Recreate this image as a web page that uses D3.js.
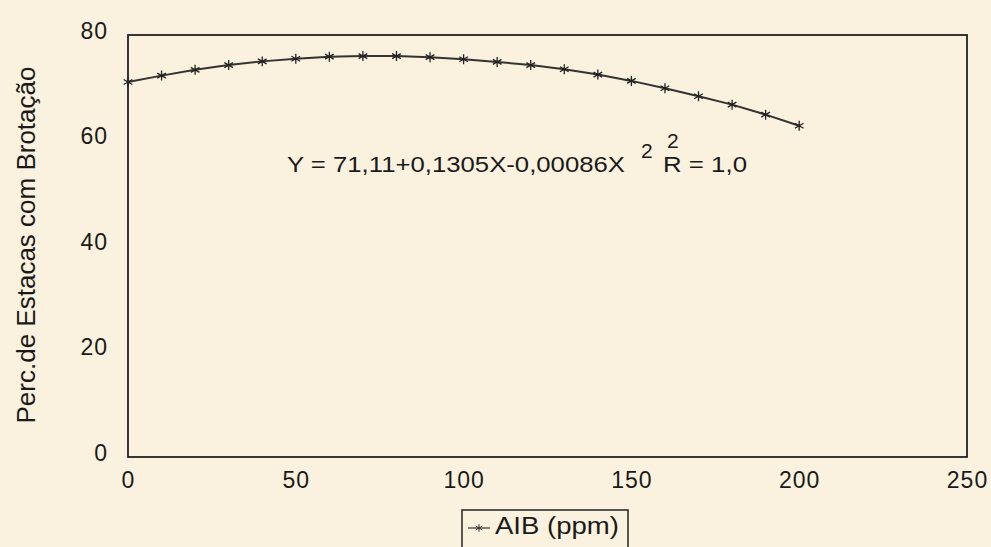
<!DOCTYPE html>
<html><head><meta charset="utf-8">
<script src="https://cdn.jsdelivr.net/npm/d3@7"></script>
<style>
html,body{margin:0;padding:0;background:#faf2de;}
svg{display:block;}
text{font-family:"Liberation Sans",Arial,sans-serif;fill:#1a1a1a;}
</style></head>
<body>
<script>
const doses = [0,10,20,30,40,50,60,70,80,90,100,110,120,130,140,150,160,170,180,190,200];
const brotacao = [71.1,72.3,73.4,74.3,75.0,75.5,75.9,76.0,76.0,75.8,75.4,74.9,74.3,73.5,72.5,71.3,69.9,68.4,66.8,64.9,62.8];
const xTicks = [0,50,100,150,200,250];
const yTicks = [0,20,40,60,80];
const yTitle = "Perc.de Estacas com Brotação";
const legendLabel = "AIB (ppm)";
const equation = "Y = 71,11+0,1305X-0,00086X";
const r2Text = "R = 1,0";

const W = 991, H = 547;
const m = {left:128, right:W-967, top:35, bottom:H-457};
const svg = d3.select("body").append("svg").attr("width",W).attr("height",H);

const x = d3.scaleLinear().domain([0,250]).range([m.left, W-m.right]);
const y = d3.scaleLinear().domain([0,80]).range([H-m.bottom, m.top]);

// frame
svg.append("rect").attr("x",x(0)).attr("y",y(80)).attr("width",x(250)-x(0)).attr("height",y(0)-y(80))
  .attr("fill","none").attr("stroke","#222").attr("stroke-width",1.8);

// axes (labels only)
const xa = svg.append("g").attr("transform",`translate(0,${y(0)})`)
  .call(d3.axisBottom(x).tickValues(xTicks).tickSize(0).tickPadding(15).tickFormat(d3.format("d")));
xa.select(".domain").remove();
xa.selectAll("text").style("font-size","23px").style("letter-spacing","1px")
  .style("font-family","'Liberation Sans',Arial,sans-serif").attr("fill","#1a1a1a");

const ya = svg.append("g").attr("transform",`translate(${x(0)},0)`)
  .call(d3.axisLeft(y).tickValues(yTicks).tickSize(0).tickPadding(20).tickFormat(d3.format("d")));
ya.select(".domain").remove();
ya.selectAll("text").style("font-size","23px").style("letter-spacing","1px").attr("dy","0.14em")
  .style("font-family","'Liberation Sans',Arial,sans-serif").attr("fill","#1a1a1a");

// y title
svg.append("text").attr("transform",`translate(35,245) rotate(-90)`)
  .attr("text-anchor","middle").attr("font-size",26).text(yTitle);

const data = doses.map((d,i)=>({x:d,y:brotacao[i]}));
svg.append("path").datum(data)
  .attr("d",d3.line().x(d=>x(d.x)).y(d=>y(d.y)))
  .attr("fill","none").attr("stroke","#333").attr("stroke-width",2);

const sym = d3.symbol().type(d3.symbolAsterisk).size(70);
svg.selectAll(".mk").data(data).join("path").attr("class","mk")
  .attr("transform",d=>`translate(${x(d.x)},${y(d.y)})`)
  .attr("d",sym).attr("fill","none").attr("stroke","#222").attr("stroke-width",1.3);

// equation
svg.append("text").attr("x",287).attr("y",172).attr("font-size",22)
  .attr("textLength",338).attr("lengthAdjust","spacingAndGlyphs").text(equation);
svg.append("text").attr("x",641).attr("y",158).attr("font-size",21).text("2");
svg.append("text").attr("x",663).attr("y",172).attr("font-size",22)
  .attr("textLength",84).attr("lengthAdjust","spacingAndGlyphs").text(r2Text);
svg.append("text").attr("x",667).attr("y",148).attr("font-size",21).text("2");

// legend
const lg = svg.append("g");
lg.append("rect").attr("x",462).attr("y",510).attr("width",166).attr("height",45)
  .attr("fill","none").attr("stroke","#222").attr("stroke-width",1.5);
lg.append("line").attr("x1",468).attr("x2",490).attr("y1",528).attr("y2",528).attr("stroke","#333").attr("stroke-width",1.2);
lg.append("path").attr("transform","translate(479,528)").attr("d",d3.symbol().type(d3.symbolAsterisk).size(40)())
  .attr("fill","none").attr("stroke","#333").attr("stroke-width",1);
lg.append("text").attr("x",495).attr("y",534).attr("font-size",23)
  .attr("textLength",124).attr("lengthAdjust","spacingAndGlyphs").text(legendLabel);
</script>
</body></html>
